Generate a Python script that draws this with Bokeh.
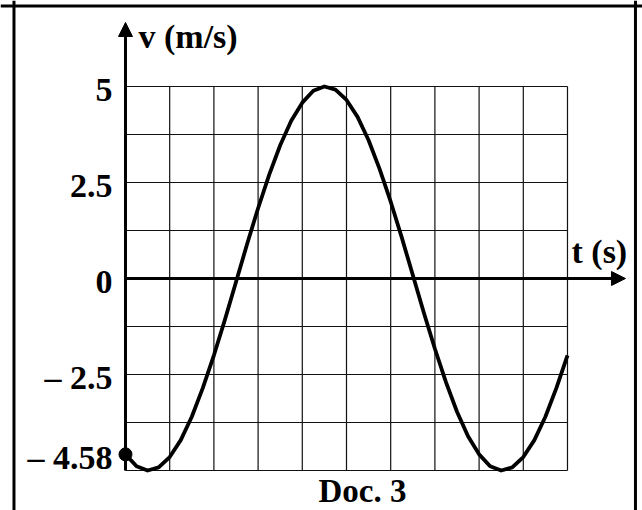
from bokeh.plotting import figure
from bokeh.models import Arrow, NormalHead, Span, ColumnDataSource
from bokeh.core.properties import value
from bokeh.embed import file_html
from bokeh.resources import INLINE

# ---- data ----
t_vals = [0, 0.25, 0.5, 0.75, 1.0, 1.25, 1.5, 1.75, 2.0, 2.25, 2.5, 2.75, 3.0, 3.25,
          3.5, 3.75, 4.0, 4.25, 4.5, 4.75, 5.0, 5.25, 5.5, 5.75, 6.0, 6.25, 6.5,
          6.75, 7.0, 7.25, 7.5, 7.75, 8.0, 8.25, 8.5, 8.75, 9.0, 9.25, 9.5, 9.75, 10.0]
v_vals = [-4.58, -4.89, -5.00, -4.92, -4.65, -4.21, -3.60, -2.85, -2.00, -1.07, -0.09,
          0.89, 1.83, 2.70, 3.47, 4.11, 4.58, 4.89, 5.00, 4.92, 4.65, 4.21, 3.60,
          2.85, 2.00, 1.07, 0.09, -0.89, -1.83, -2.70, -3.47, -4.11, -4.58, -4.89,
          -5.00, -4.92, -4.65, -4.21, -3.60, -2.85, -2.00]
t_grid = [0, 1, 2, 3, 4, 5, 6, 7, 8, 9, 10]
v_grid = [-5, -3.75, -2.5, -1.25, 0, 1.25, 2.5, 3.75, 5]
tick_values = [5, 2.5, 0, -2.5, -4.58]
tick_labels = ["5", "2.5", "0", "\u2013 2.5", "\u2013 4.58"]
start_point = [(0, -4.58)]
y_label = "v (m/s)"
x_label = "t (s)"
caption = "Doc. 3"

# ---- layout ----
W, H = 642, 510
X_RANGE = (-2.828, 11.697)
Y_RANGE = (-6.042, 7.240)
V_AXIS_TOP = 6.667
T_AXIS_END = 11.312
FONT = value("Liberation Serif")
FS = "34px"

p = figure(width=W, height=H, x_range=X_RANGE, y_range=Y_RANGE,
           x_axis_location=None, y_axis_location=None,
           toolbar_location=None, output_backend="svg",
           min_border=0, outline_line_color=None)
p.grid.visible = False
p.background_fill_color = "white"
p.border_fill_color = "white"

# outer frame (left, right, top)
for loc in (-2.523, 11.538):
    p.add_layout(Span(location=loc, dimension="height", line_color="black", line_width=3))
p.add_layout(Span(location=7.096, dimension="width", line_color="black", line_width=3))

# grid
vsrc = ColumnDataSource(dict(x=t_grid, y0=[min(v_grid)] * len(t_grid), y1=[max(v_grid)] * len(t_grid)))
p.segment(x0="x", y0="y0", x1="x", y1="y1", source=vsrc, line_color="#111111", line_width=1.2)
hsrc = ColumnDataSource(dict(y=v_grid, x0=[min(t_grid)] * len(v_grid), x1=[max(t_grid)] * len(v_grid)))
p.segment(x0="x0", y0="y", x1="x1", y1="y", source=hsrc, line_color="#111111", line_width=1.2)

# axes with arrows
p.add_layout(Arrow(end=NormalHead(size=14, fill_color="black", line_color="black", line_width=1),
                   x_start=0, y_start=min(v_grid), x_end=0, y_end=V_AXIS_TOP,
                   line_color="black", line_width=3))
p.add_layout(Arrow(end=NormalHead(size=14, fill_color="black", line_color="black", line_width=1),
                   x_start=0, y_start=0, x_end=T_AXIS_END, y_end=0,
                   line_color="black", line_width=3))

# curve
p.line(t_vals, v_vals, line_color="black", line_width=3.8, line_join="round")
p.scatter([s[0] for s in start_point], [s[1] for s in start_point], size=13,
          fill_color="black", line_color="black")

# tick labels
p.text(x=[0] * len(tick_values), y=tick_values, text=tick_labels,
       text_font=FONT, text_font_style="bold", text_font_size=FS,
       text_align="right", text_baseline="middle", x_offset=-13, y_offset=3,
       text_color="black")

# axis titles
p.text(x=[0], y=[V_AXIS_TOP], text=[y_label], text_font=FONT, text_font_style="bold",
       text_font_size=FS, text_align="left", text_baseline="middle",
       x_offset=13, y_offset=14, text_color="black")
p.text(x=[max(t_grid)], y=[0], text=[x_label], text_font=FONT, text_font_style="bold",
       text_font_size=FS, text_align="left", text_baseline="middle",
       x_offset=4, y_offset=-27, text_color="black")
p.text(x=[5], y=[min(v_grid)], text=[caption], text_font=FONT, text_font_style="bold",
       text_font_size="33px", text_align="center", text_baseline="bottom",
       x_offset=16, y_offset=39, text_color="black")

open("out.html", "w").write(file_html(p, INLINE))
